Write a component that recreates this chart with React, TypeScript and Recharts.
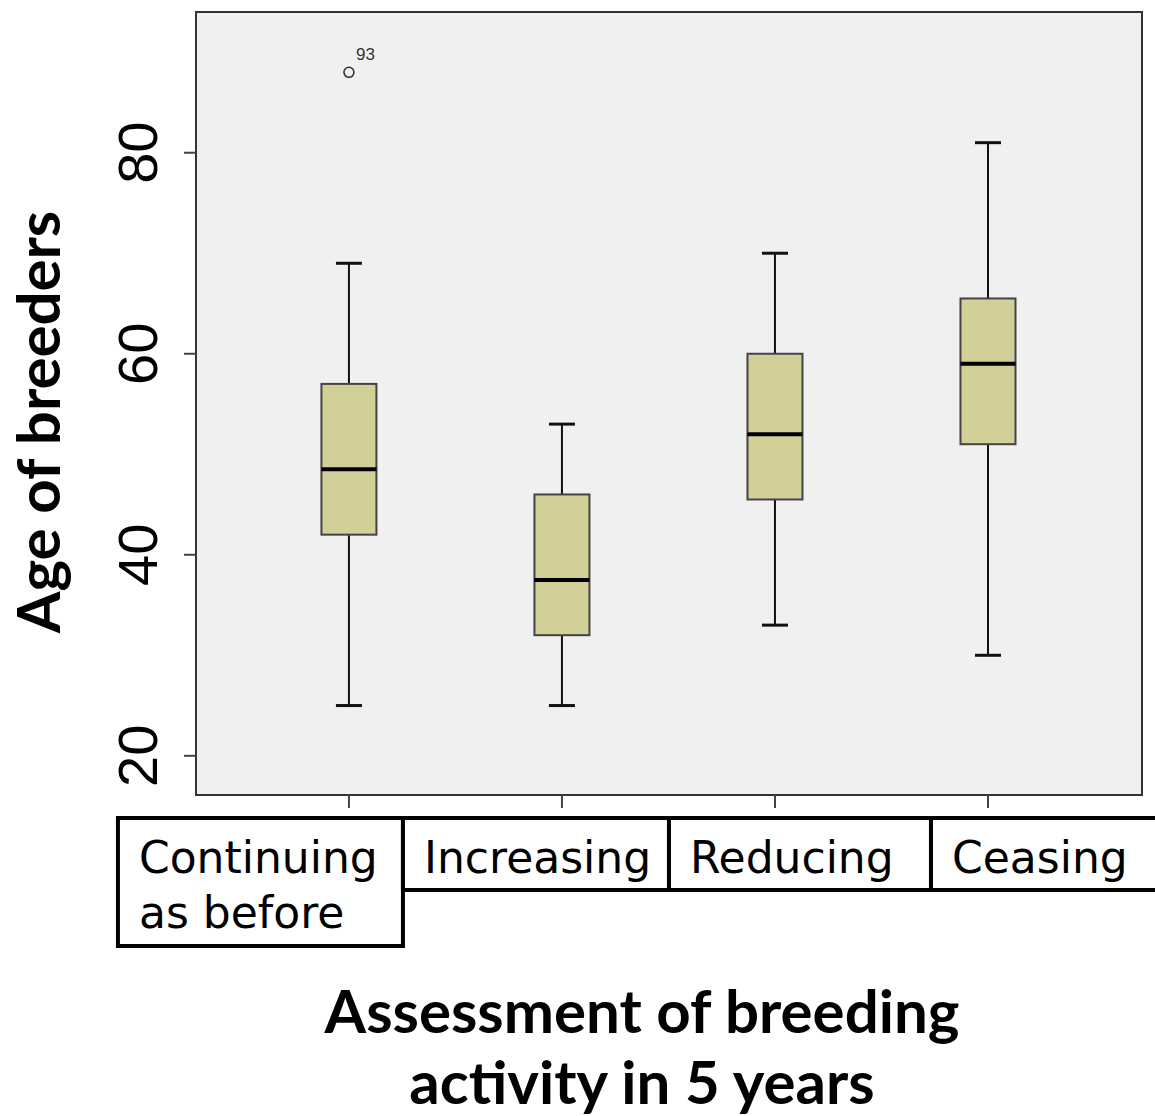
import { ComposedChart, Bar, Scatter, XAxis, YAxis, ReferenceArea, Label } from 'recharts';

const groups = ['Continuing as before', 'Increasing', 'Reducing', 'Ceasing'];
const groupLines = [['Continuing', 'as before'], ['Increasing'], ['Reducing'], ['Ceasing']];
const whiskerLow = [25, 25, 33, 30];
const q1 = [42, 32, 45.5, 51];
const median = [48.5, 37.5, 52, 59];
const q3 = [57, 46, 60, 65.5];
const whiskerHigh = [69, 53, 70, 81];
const outlierGroup = [1];
const outlierValue = [88];
const outlierCase = [93];
const yTicks = [20, 40, 60, 80];

const data = groups.map((name, i) => ({
    x: i + 1,
    name,
    low: whiskerLow[i],
    q1: q1[i],
    median: median[i],
    q3: q3[i],
    high: whiskerHigh[i],
}));

const outliers = outlierGroup.map((g, i) => ({ x: g, y: outlierValue[i], id: outlierCase[i] }));

const X_DOMAIN: [number, number] = [0.282, 4.723];
const Y_DOMAIN: [number, number] = [16.1, 94];

// label boxes under the axis: offsets from each tick
const boxLeft = [-231, -159, -106, -57];
const boxRight = [54, 107, 156, 190];
const boxBottom = [946, 890, 890, 890];

function BoxShape(props: any) {
    const { x, y, width, height, payload } = props;
    const lo = payload.low;
    const hi = payload.high;
    const py = (v: number) => y + ((hi - v) / (hi - lo)) * height;
    const cx = x + width / 2;
    const cap = 13;
    return (
        <g>
            <line x1={cx} x2={cx} y1={py(hi)} y2={py(payload.q3)} stroke="#111" strokeWidth={2} />
            <line x1={cx} x2={cx} y1={py(payload.q1)} y2={py(lo)} stroke="#111" strokeWidth={2} />
            <line x1={cx - cap} x2={cx + cap} y1={py(hi)} y2={py(hi)} stroke="#111" strokeWidth={3} />
            <line x1={cx - cap} x2={cx + cap} y1={py(lo)} y2={py(lo)} stroke="#111" strokeWidth={3} />
            <rect
                x={x}
                y={py(payload.q3)}
                width={width}
                height={py(payload.q1) - py(payload.q3)}
                fill="#d3cf98"
                stroke="#444"
                strokeWidth={2}
            />
            <line x1={x} x2={x + width} y1={py(payload.median)} y2={py(payload.median)} stroke="#000" strokeWidth={4} />
        </g>
    );
}

function OutlierShape(props: any) {
    const { cx, cy, payload } = props;
    return (
        <g>
            <circle cx={cx} cy={cy} r={5} fill="none" stroke="#333" strokeWidth={1.6} />
            <text x={cx + 7} y={cy - 12} fontSize={17} fill="#333" fontFamily="Liberation Sans, Arial, sans-serif">
                {payload.id}
            </text>
        </g>
    );
}

function XTick(props: any) {
    const { x, payload, index } = props;
    const i = index ?? payload.value - 1;
    const left = x + boxLeft[i];
    const right = x + boxRight[i];
    const top = 818;
    return (
        <g>
            <rect x={left} y={top} width={right - left} height={boxBottom[i] - top} fill="#fff" stroke="#000" strokeWidth={4} />
            {groupLines[i].map((line, k) => (
                <text
                    key={k}
                    x={left + 21}
                    y={873 + k * 55}
                    fontSize={44}
                    fill="#000"
                    fontFamily="DejaVu Sans, sans-serif"
                >
                    {line}
                </text>
            ))}
        </g>
    );
}

function YTick(props: any) {
    const { y, payload } = props;
    return (
        <text
            transform={`translate(137, ${y}) rotate(-90)`}
            textAnchor="middle"
            dominantBaseline="central"
            fontSize={56}
            fill="#000"
            fontFamily="Liberation Sans, Arial, sans-serif"
        >
            {payload.value}
        </text>
    );
}

export default function App() {
    return (
        <div style={{ width: 1155, height: 1116, background: '#fff' }}>
            <style>{'body{margin:0}'}</style>
            <ComposedChart width={1155} height={1116} data={data} margin={{ top: 12, right: 13, left: 0, bottom: 0 }}>
                <ReferenceArea
                    x1={X_DOMAIN[0]}
                    x2={X_DOMAIN[1]}
                    y1={Y_DOMAIN[0]}
                    y2={Y_DOMAIN[1]}
                    fill="#f0f0f0"
                    fillOpacity={1}
                    stroke="#333"
                    strokeWidth={2}
                    ifOverflow="visible"
                />
                <XAxis
                    type="number"
                    dataKey="x"
                    domain={X_DOMAIN}
                    ticks={[1, 2, 3, 4]}
                    allowDataOverflow
                    height={321}
                    axisLine={false}
                    tickSize={13}
                    tickLine={{ stroke: '#444', strokeWidth: 2 }}
                    tick={<XTick />}
                    interval={0}
                >
                    <Label
                        content={() => (
                            <g fontFamily="Lato, sans-serif" fontWeight={700} fontSize={60} fill="#000">
                                <text x={642} y={1033} textAnchor="middle">Assessment of breeding</text>
                                <text x={642} y={1104} textAnchor="middle">activity in 5 years</text>
                            </g>
                        )}
                    />
                </XAxis>
                <YAxis
                    type="number"
                    domain={Y_DOMAIN}
                    ticks={yTicks}
                    allowDataOverflow
                    width={196}
                    axisLine={false}
                    tickSize={12}
                    tickLine={{ stroke: '#444', strokeWidth: 2 }}
                    tick={<YTick />}
                >
                    <Label
                        content={() => (
                            <text
                                transform="translate(60, 422) rotate(-90)"
                                textAnchor="middle"
                                fontFamily="Lato, sans-serif"
                                fontWeight={700}
                                fontSize={60}
                                fill="#000"
                            >
                                Age of breeders
                            </text>
                        )}
                    />
                </YAxis>
                <Bar
                    dataKey={(d: any) => [d.low, d.high]}
                    barSize={55}
                    shape={<BoxShape />}
                    isAnimationActive={false}
                />
                <Scatter data={outliers} dataKey="y" shape={<OutlierShape />} isAnimationActive={false} />
            </ComposedChart>
        </div>
    );
}
